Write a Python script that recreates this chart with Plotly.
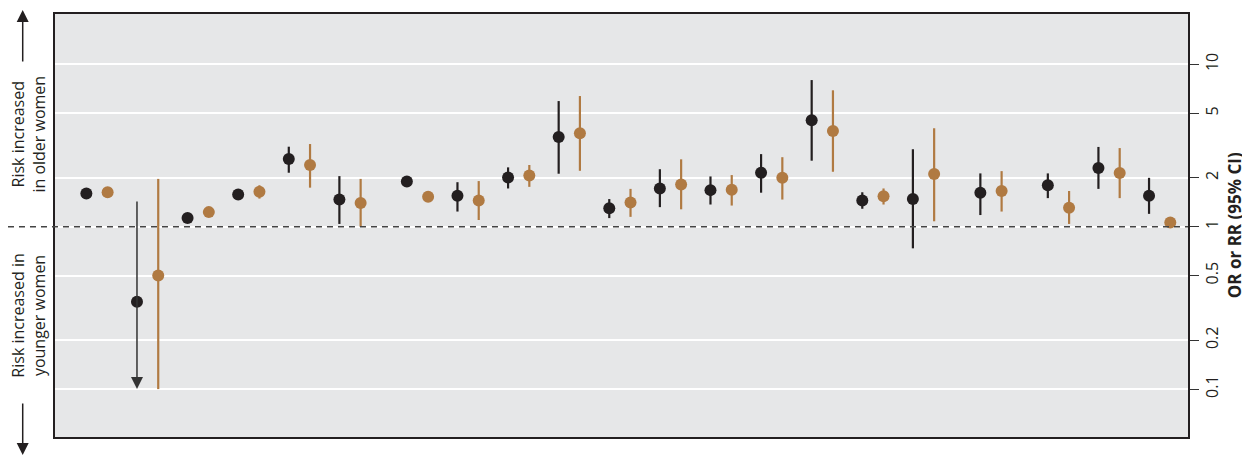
import math
import plotly.graph_objects as go

# ---------------- data ----------------
study_index = list(range(21))
study_section = [0, 0, 0, 0, 0, 0,
                 1, 1, 1, 1, 1, 1, 1, 1, 1, 1, 1,
                 2,
                 3, 3, 3]

black_est = [1.60, 0.345, 1.13, 1.58, 2.61, 1.47, 1.90, 1.55, 2.01, 3.57, 1.30,
             1.72, 1.68, 2.15, 4.52, 1.45, 1.48, 1.62, 1.80, 2.30, 1.55]
black_lo = [1.60, 0.10, 1.13, 1.58, 2.15, 1.04, 1.90, 1.24, 1.72, 2.12, 1.13,
            1.32, 1.37, 1.62, 2.55, 1.29, 0.736, 1.18, 1.50, 1.71, 1.20]
black_hi = [1.60, 1.46, 1.13, 1.58, 3.11, 2.05, 1.90, 1.88, 2.32, 5.94, 1.48,
            2.26, 2.04, 2.80, 8.00, 1.63, 3.00, 2.13, 2.13, 3.10, 2.00]
black_truncated = [False, True] + [False] * 19

brown_est = [1.63, 0.50, 1.23, 1.64, 2.40, 1.40, 1.53, 1.45, 2.07, 3.76, 1.41,
             1.82, 1.69, 2.00, 3.88, 1.54, 2.11, 1.66, 1.31, 2.14, 1.06]
brown_lo = [1.63, 0.10, 1.23, 1.49, 1.74, 1.00, 1.53, 1.10, 1.76, 2.21, 1.15,
            1.28, 1.35, 1.47, 2.18, 1.37, 1.08, 1.24, 1.04, 1.50, 1.06]
brown_hi = [1.63, 1.97, 1.23, 1.80, 3.23, 1.97, 1.53, 1.91, 2.40, 6.38, 1.71,
            2.60, 2.08, 2.68, 6.92, 1.72, 4.04, 2.20, 1.66, 3.05, 1.06]

y_ticks = [0.1, 0.2, 0.5, 1, 2, 5, 10]
y_tick_text = ["0.1", "0.2", "0.5", "1", "2", "5", "10"]

# ---------------- style ----------------
BLACK = "#231f20"
BROWN = "#b07a42"
BG = "#e6e7e8"
FONT = "Open Sans"
SECTION_GAP = 1 / 3
PAIR_OFFSET = 0.21

centers = [i + SECTION_GAP * s for i, s in zip(study_index, study_section)]
x_black = [c - PAIR_OFFSET for c in centers]
x_brown = [c + PAIR_OFFSET for c in centers]

fig = go.Figure()


def add_series(xs, est, lo, hi, color, trunc=None):
    plus, minus = [], []
    for k, (v, l, h) in enumerate(zip(est, lo, hi)):
        if trunc and trunc[k]:
            plus.append(0)
            minus.append(0)
        else:
            plus.append(h - v)
            minus.append(v - l)
    fig.add_trace(go.Scatter(
        x=xs, y=est, mode="markers",
        marker=dict(color=color, size=12, line=dict(width=0)),
        error_y=dict(type="data", array=plus, arrayminus=minus, symmetric=False,
                     color=color, thickness=2.2, width=0),
        showlegend=False, hoverinfo="skip"))


add_series(x_black, black_est, black_lo, black_hi, BLACK, black_truncated)
add_series(x_brown, brown_est, brown_lo, brown_hi, BROWN)

# truncated CI drawn as an arrow
for k, t in enumerate(black_truncated):
    if t:
        fig.add_annotation(x=x_black[k], y=math.log10(black_lo[k]),
                           ax=x_black[k], ay=math.log10(black_hi[k]),
                           xref="x", yref="y", axref="x", ayref="y",
                           showarrow=True, arrowhead=2, arrowsize=1.6,
                           arrowwidth=1.5, arrowcolor="#333333", text="",
                           standoff=0, startstandoff=0)

x_lo, x_hi = -0.83, 21.56
y_lo, y_hi = -1.295, 1.310

fig.add_shape(type="line", xref="paper", yref="y", x0=-0.0415, x1=1, y0=1, y1=1,
              line=dict(color="#444444", width=1.5, dash="6px,5px"), layer="above")

# left side annotations
fig.add_annotation(xref="paper", yref="paper", x=-0.0234, y=0.716,
                   xanchor="center", yanchor="middle", textangle=-90, align="center",
                   text="Risk increased<br>in older women", showarrow=False,
                   font=dict(family=FONT, size=16, color=BLACK))
fig.add_annotation(xref="paper", yref="paper", x=-0.0234, y=0.288,
                   xanchor="center", yanchor="middle", textangle=-90, align="center",
                   text="Risk increased in<br>younger women", showarrow=False,
                   font=dict(family=FONT, size=16, color=BLACK))
# direction arrows
fig.add_annotation(xref="paper", yref="paper", x=-0.0285, y=1.0095,
                   ax=0, ay=53, axref="pixel", ayref="pixel", text="",
                   showarrow=True, arrowhead=2, arrowsize=1.6, arrowwidth=1.5,
                   arrowcolor=BLACK, standoff=0)
fig.add_annotation(xref="paper", yref="paper", x=-0.0285, y=-0.0426,
                   ax=0, ay=-53, axref="pixel", ayref="pixel", text="",
                   showarrow=True, arrowhead=2, arrowsize=1.6, arrowwidth=1.5,
                   arrowcolor=BLACK, standoff=0)

# right axis title
fig.add_annotation(xref="paper", yref="paper", x=1.0412, y=0.5,
                   xanchor="center", yanchor="middle", textangle=-90,
                   text="<b>OR or RR (95% CI)</b>", showarrow=False,
                   font=dict(family=FONT, size=17, color=BLACK))

# page body adds an 8px offset, so the figure is 8px smaller on each leading edge
fig.update_layout(
    width=1242, height=448,
    margin=dict(l=47, r=62, t=6, b=19, autoexpand=False),
    paper_bgcolor="white", plot_bgcolor=BG,
    font=dict(family=FONT, size=16, color=BLACK),
    xaxis=dict(range=[x_lo, x_hi], showgrid=False, zeroline=False,
               showticklabels=False, ticks="", showline=True, mirror=True,
               linecolor=BLACK, linewidth=1.5),
    yaxis=dict(type="log", range=[y_lo, y_hi], side="right",
               tickvals=y_ticks, ticktext=y_tick_text, tickangle=-90,
               ticks="outside", ticklen=9, tickwidth=1, tickcolor="#333333",
               showgrid=True, gridcolor="white", gridwidth=1.5, zeroline=False,
               showline=True, mirror=True, linecolor=BLACK, linewidth=1.5,
               tickfont=dict(family=FONT, size=16, color=BLACK)),
)

fig.write_html("out.html")
